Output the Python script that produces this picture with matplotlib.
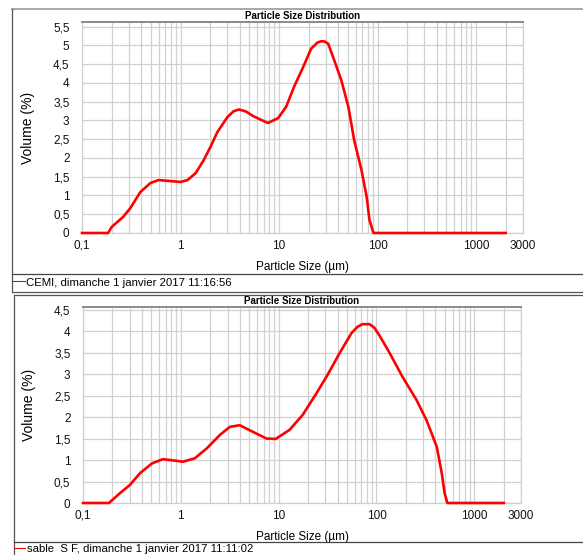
import matplotlib
matplotlib.use("Agg")
import matplotlib.pyplot as plt
from matplotlib.lines import Line2D
from matplotlib.ticker import FixedLocator, LogLocator, NullFormatter

plt.rcParams['font.family'] = ['Liberation Sans', 'DejaVu Sans']

# CEMI distribution (particle size in µm, volume in %)
cemi_size = [0.1, 0.184, 0.2, 0.262, 0.309, 0.391, 0.494, 0.597, 0.737, 1.0,
             1.18, 1.43, 1.72, 2.02, 2.37, 3.0, 3.45, 3.9, 4.6, 5.5, 7.7, 9.8,
             11.8, 14.2, 17.6, 21.2, 24.5, 26.9, 29.0, 31.6, 36.4, 42.9, 50.6, 58.0,
             68.7, 77.6, 82.8, 91.0, 2000]
cemi_vol = [0, 0, 0.16, 0.43, 0.66, 1.09, 1.33, 1.41, 1.39, 1.36,
            1.41, 1.60, 1.94, 2.30, 2.69, 3.09, 3.24, 3.29, 3.24, 3.11, 2.93, 3.06,
            3.36, 3.89, 4.42, 4.91, 5.07, 5.11, 5.10, 5.04, 4.60, 4.07, 3.36, 2.47,
            1.68, 0.97, 0.35, 0, 0]

# Sand "S F" distribution
sable_size = [0.1, 0.184, 0.239, 0.302, 0.381, 0.506, 0.655, 0.91, 1.05, 1.39,
              1.84, 2.5, 3.16, 4.0, 5.4, 7.5, 9.3, 12.9, 17.6, 24.3,
              31.6, 41.8, 55.4, 64.0, 71.6, 84.8, 95.0, 107, 134, 184, 256, 324,
              413, 465, 497, 530, 2000]
sable_vol = [0, 0, 0.23, 0.42, 0.69, 0.92, 1.02, 0.98, 0.96, 1.04,
             1.27, 1.58, 1.77, 1.81, 1.66, 1.50, 1.49, 1.70, 2.05, 2.55,
             2.98, 3.48, 3.95, 4.10, 4.16, 4.16, 4.08, 3.90, 3.52, 2.94, 2.40, 1.93,
             1.31, 0.69, 0.23, 0, 0]

x_ticks = [0.1, 1, 10, 100, 1000, 3000]
x_tick_labels = ["0,1", "1", "10", "100", "1000", "3000"]

legend_cemi = "CEMI, dimanche 1 janvier 2017 11:16:56"
legend_sable = "sable  S F, dimanche 1 janvier 2017 11:11:02"

W, H = 583, 555
fig = plt.figure(figsize=(W / 100, H / 100), dpi=100)
fig.patch.set_facecolor("white")

GRID = "#d0d0d0"
RED = "#ff0000"


def fx(px):
    return px / W


def fy(py):
    return 1 - py / H


def comma(v):
    s = ("%g" % v)
    return s.replace(".", ",")


def panel(rect_px, sizes, vols, ymax, yticks):
    left, top, right, bottom = rect_px
    ax = fig.add_axes([fx(left), fy(bottom), fx(right - left), (bottom - top) / H])
    ax.plot(sizes, vols, color=RED, lw=1.9, solid_joinstyle="round", clip_on=False, zorder=3)
    ax.set_xscale("log")
    ax.set_xlim(0.1, 3000)
    ax.set_ylim(0, ymax)
    ax.xaxis.set_major_locator(FixedLocator(x_ticks))
    ax.set_xticklabels(x_tick_labels)
    ax.xaxis.set_minor_locator(LogLocator(base=10, subs=range(2, 10), numticks=20))
    ax.xaxis.set_minor_formatter(NullFormatter())
    ax.set_yticks(yticks)
    ax.set_yticklabels([comma(v) for v in yticks])
    ax.grid(True, which="both", axis="x", color=GRID, lw=0.9)
    ax.grid(True, which="major", axis="y", color=GRID, lw=0.9)
    ax.set_axisbelow(True)
    ax.tick_params(which="both", length=0, labelsize=8.5, colors="#111111")
    ax.tick_params(axis="x", pad=5)
    ax.tick_params(axis="y", pad=9)
    for side in ("left", "right", "bottom"):
        ax.spines[side].set_color(GRID)
        ax.spines[side].set_linewidth(0.9)
    ax.spines["top"].set_color("#8a8a8a")
    ax.spines["top"].set_linewidth(1.4)
    ax.set_title("Particle Size Distribution", fontsize=7, fontweight="bold", pad=2.5)
    ax.set_ylabel("Volume (%)", fontsize=10, labelpad=13)
    ax.set_xlabel("Particle Size (µm)", fontsize=8.5, labelpad=6.5)
    return ax


yt_top = [i * 0.5 for i in range(12)]
yt_bot = [i * 0.5 for i in range(10)]
panel((82, 22, 523, 233), cemi_size, cemi_vol, 5.62, yt_top)
panel((83, 307, 521, 503), sable_size, sable_vol, 4.56, yt_bot)


def hline(y, x0, x1, color="#707070", lw=1.0):
    fig.add_artist(Line2D([fx(x0), fx(x1)], [fy(y), fy(y)], color=color, lw=lw))


def vline(x, y0, y1, color="#707070", lw=1.0):
    fig.add_artist(Line2D([fx(x), fx(x)], [fy(y0), fy(y1)], color=color, lw=lw))


# outer frames of both report panels
hline(9, 12, W, "#9a9a9a", 1.2)
vline(12, 9, 292, "#555555", 0.9)
hline(292, 12, W, "#555555", 0.9)
hline(294.5, 14, W, "#555555", 0.9)
vline(14, 294.5, H, "#555555", 0.9)

# legend separators
hline(274, 12, W, "#444444", 0.9)
hline(542, 14, W, "#444444", 0.9)

# legend entries
fig.add_artist(Line2D([fx(12), fx(25)], [fy(281), fy(281)], color=RED, lw=0.8))
fig.text(fx(26), fy(285.5), legend_cemi, fontsize=8.2, va="baseline", ha="left")
fig.add_artist(Line2D([fx(14), fx(25)], [fy(547.5), fy(547.5)], color=RED, lw=0.8))
fig.text(fx(27), fy(552), legend_sable, fontsize=8.2, va="baseline", ha="left")

fig.savefig("out.png", dpi=100, facecolor="white")
